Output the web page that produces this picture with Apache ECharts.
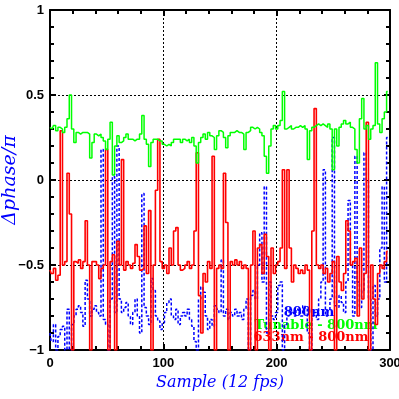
<!DOCTYPE html>
<html>
<head>
<meta charset="UTF-8" />
<title>phase difference</title>
<script src="https://cdn.jsdelivr.net/npm/echarts@6/dist/echarts.min.js"></script>
<style>
  html, body { margin: 0; padding: 0; background: #fff; }
  #chart { width: 399px; height: 399px; }
</style>
</head>
<body>
<div id="chart"></div>
<script>
// samples every 2 frames: 0, 2, 4 ... 298
var sampleStep = 2;

// Tunable - 800nm (green)
var tunable = [
  0.31, 0.30, 0.32, 0.29, 0.31, 0.30, 0.28, 0.31, 0.36, 0.50,
  0.30, 0.22, 0.28, 0.27, 0.28, 0.28, 0.28, 0.27, 0.13, 0.22,
  0.27, 0.26, 0.27, 0.25, 0.23, 0.18, 0.24, 0.34, 0.03, 0.20,
  0.26, 0.22, 0.23, 0.25, 0.27, 0.24, 0.24, 0.23, 0.24, 0.24,
  0.27, 0.38, 0.24, 0.21, 0.08, 0.22, 0.24, 0.24, 0.23, 0.23,
  0.21, 0.20, 0.21, 0.20, 0.22, 0.24, 0.24, 0.24, 0.22, 0.24,
  0.23, 0.24, 0.22, 0.25, 0.20, 0.10, 0.22, 0.25, 0.27, 0.24,
  0.28, 0.26, 0.25, 0.18, 0.26, 0.29, 0.28, 0.25, 0.19, 0.26,
  0.28, 0.28, 0.29, 0.28, 0.28, 0.27, 0.18, 0.28, 0.29, 0.31,
  0.30, 0.31, 0.30, 0.28, 0.26, 0.14, 0.04, 0.20, 0.30, 0.32,
  0.30, 0.32, 0.35, 0.52, 0.30, 0.31, 0.32, 0.30, 0.31, 0.31,
  0.32, 0.31, 0.32, 0.30, 0.12, 0.29, 0.31, 0.32, 0.33, 0.32,
  0.33, 0.32, 0.31, 0.33, 0.30, 0.06, 0.30, 0.20, 0.31, 0.33,
  0.35, 0.33, 0.34, 0.31, 0.30, 0.18, 0.10, 0.36, 0.48, 0.30,
  0.32, 0.24, 0.30, 0.32, 0.69, 0.33, 0.28, 0.36, 0.40, 0.52
];

// 633nm - 800nm (red)
var red633 = [
  -0.53, -0.55, -0.52, -0.59, -0.56, 0.29, -0.50, -0.48, 0.04, -0.20,
  -1.00, -0.48, -0.49, -0.47, -0.52, -0.48, -0.24, -0.50, -1.00, -0.48,
  -0.48, -0.50, -0.58, -0.52, -0.50, 0.18, -1.00, -0.48, -0.44, -1.00,
  -0.36, -0.50, 0.12, -0.53, -0.48, -0.50, -0.52, -0.49, -0.38, -0.45,
  -0.53, -0.52, -0.27, -0.55, -0.18, -1.00, -0.50, -0.06, 0.24, -0.48,
  -0.52, -0.50, -0.55, -0.40, -0.50, -0.30, -0.28, -0.50, -0.53, -0.52,
  -0.50, -0.48, -0.52, -0.50, -0.30, 0.16, -0.68, -0.90, -0.55, -0.60,
  -0.48, -0.52, 0.14, -1.00, -0.52, -0.50, -0.52, 0.04, -0.25, -1.00,
  -0.48, -0.50, -0.47, -0.50, -0.48, -0.52, -0.50, -0.52, -1.00, -0.50,
  -0.30, -1.00, -0.40, -0.38, -0.55, -0.32, -0.45, -1.00, -0.40, -0.55,
  -0.50, -0.48, -0.40, 0.06, -0.52, 0.06, -0.40, -0.60, -0.50, -0.52,
  -0.55, -0.53, -0.55, -0.50, -0.53, -1.00, -0.30, 0.42, -0.50, -0.52,
  -0.50, -0.55, -0.52, -0.60, -0.55, -0.48, -1.00, -0.45, -0.60, -0.65,
  -0.55, -0.24, -0.30, -0.50, -0.48, -0.46, -0.80, -0.40, -0.70, -0.55,
  0.34, -1.00, -0.50, -0.70, -0.85, -0.55, -0.50, -0.52, -0.48, -0.42
];

// 800nm (blue)
var blue800 = [
  -0.90, -0.95, -0.85, -1.00, -0.92, -0.88, -0.86, -1.00, -0.76, -1.00,
  -0.85, -0.80, -0.76, -0.74, -0.78, -0.86, -0.59, -0.70, -0.80, -0.76,
  -0.74, -0.78, -0.80, 0.18, -0.82, -0.85, -1.00, -0.70, 0.02, -0.78,
  0.20, -0.70, -0.78, -0.75, -0.72, -0.80, -0.85, -0.78, -0.70, -0.80,
  -0.90, -0.08, -0.75, -0.80, -0.85, -0.58, -0.65, -0.80, -0.83, -0.88,
  -0.84, -0.78, -0.72, -0.70, -0.80, -0.82, -0.76, -0.85, -0.80, -0.78,
  -0.80, -0.76, -0.82, -0.86, -0.95, -1.00, -0.70, -0.63, -0.66, -0.80,
  -0.88, -0.82, -0.86, -0.74, -0.76, -0.78, -0.47, -0.80, -0.76, -0.82,
  -0.78, -0.80, -0.76, -0.80, -0.78, -0.82, -0.76, -0.70, -1.00, -0.68,
  -0.65, -0.70, -0.50, -0.31, -0.60, -0.04, -0.90, -0.60, -0.80, -0.82,
  -0.78, -0.62, -0.60, -1.00, -0.85, -0.80, -0.76, -0.78, -0.80, -0.76,
  -0.78, -0.80, -0.74, -0.76, -0.90, -1.00, -0.80, -0.78, -0.82, -0.70,
  -0.60, 0.06, -0.80, -0.76, -0.70, 0.25, -0.74, -0.75, -0.68, -0.72,
  -0.78, -0.60, -0.12, -0.50, -0.80, 0.14, -0.60, -0.75, -0.65, 0.16,
  0.00, -0.70, -1.00, -0.62, -0.80, -0.70, -0.40, -0.04, -0.60, 0.25
];

var xTicks = [0, 100, 200, 300];
var yTicks = [-1, -0.5, 0, 0.5, 1];

function pairs(arr) {
  var out = [];
  for (var i = 0; i < arr.length; i++) {
    out.push([i * sampleStep, arr[i]]);
  }
  return out;
}

var chart = echarts.init(document.getElementById("chart"));

var tickLabel = {
  color: "#000",
  fontFamily: "Liberation Sans",
  fontWeight: "bold",
  fontSize: 13
};

var frameAxis = {
  axisLine: { show: true, onZero: false, lineStyle: { color: "#000", width: 2 } },
  axisTick: { show: true, inside: true, length: 6, lineStyle: { color: "#000", width: 2 } },
  minorTick: { show: true, splitNumber: 5, length: 4, lineStyle: { color: "#000", width: 2 } }
};

chart.setOption({
  animation: false,
  backgroundColor: "#fff",
  grid: { left: 50, right: 9, top: 10, bottom: 49, outerBoundsMode: "none", containLabel: false },
  xAxis: [
    Object.assign({
      type: "value",
      min: xTicks[0],
      max: xTicks[xTicks.length - 1],
      interval: 100,
      position: "bottom",
      name: "Sample (12 fps)",
      nameLocation: "middle",
      nameGap: 25,
      nameMoveOverlap: false,
      nameTextStyle: {
        color: "#0000ff",
        fontFamily: "DejaVu Serif",
        fontStyle: "italic",
        fontSize: 16
      },
      axisLabel: Object.assign({ margin: 7 }, tickLabel),
      splitLine: { show: true, lineStyle: { color: "#000", type: [2, 2], width: 1 } }
    }, frameAxis),
    Object.assign({
      type: "value",
      min: xTicks[0],
      max: xTicks[xTicks.length - 1],
      interval: 100,
      position: "top",
      axisLabel: { show: false },
      splitLine: { show: false }
    }, frameAxis)
  ],
  yAxis: [
    Object.assign({
      type: "value",
      min: yTicks[0],
      max: yTicks[yTicks.length - 1],
      interval: 0.5,
      position: "left",
      name: "\u0394phase/\u03c0",
      nameLocation: "middle",
      nameGap: 30,
      nameMoveOverlap: false,
      nameTextStyle: {
        color: "#0000ff",
        fontFamily: "DejaVu Serif",
        fontStyle: "italic",
        fontSize: 19
      },
      axisLabel: Object.assign({
        margin: 6,
        formatter: function (v) { return String(v).replace("-", "\u2212"); }
      }, tickLabel),
      splitLine: { show: true, lineStyle: { color: "#000", type: [2, 2], width: 1 } }
    }, frameAxis),
    Object.assign({
      type: "value",
      min: yTicks[0],
      max: yTicks[yTicks.length - 1],
      interval: 0.5,
      position: "right",
      axisLabel: { show: false },
      splitLine: { show: false }
    }, frameAxis)
  ],
  series: [
    {
      name: "800nm",
      type: "line",
      step: "middle",
      data: pairs(blue800),
      showSymbol: false,
      lineStyle: { color: "#0000ff", width: 1.5, type: [3, 2] }
    },
    {
      name: "633nm - 800nm",
      type: "line",
      step: "middle",
      data: pairs(red633),
      showSymbol: false,
      lineStyle: { color: "#ff0000", width: 1.6 }
    },
    {
      name: "Tunable - 800nm",
      type: "line",
      step: "middle",
      data: pairs(tunable),
      showSymbol: false,
      lineStyle: { color: "#00ff00", width: 1.5 }
    }
  ],
  graphic: [
    { type: "text", x: 309, y: 313, style: { text: "800nm", fill: "#0000ff", font: "bold 13px 'DejaVu Serif'", align: "center", verticalAlign: "middle" } },
    { type: "text", x: 316, y: 326, style: { text: "Tunable - 800nm", fill: "#00ff00", font: "bold 13px 'DejaVu Serif'", align: "center", verticalAlign: "middle" } },
    { type: "text", x: 311, y: 338, style: { text: "633nm - 800nm", fill: "#ff0000", font: "bold 13px 'DejaVu Serif'", align: "center", verticalAlign: "middle" } }
  ]
});
</script>
</body>
</html>
